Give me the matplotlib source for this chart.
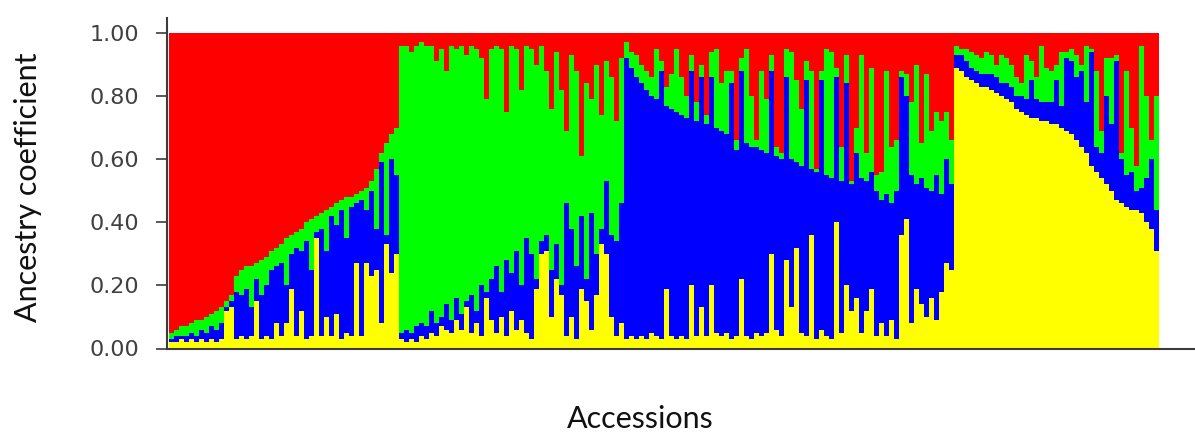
import matplotlib
matplotlib.use("Agg")
import matplotlib.pyplot as plt
import numpy as np

# Ancestry coefficients (percent) per accession, four clusters (K=4)
# groups: red-dominant (46), green-dominant (45), blue-dominant (66), yellow-dominant (41)
yellow = [
    2, 2, 3, 2, 3, 2, 3, 2, 3, 2, 3, 12, 13, 3, 4, 3, 4, 15, 3, 4, 3, 8, 4, 8, 19, 4, 12, 3, 4, 35,
    4, 10, 4, 11, 3, 5, 4, 27, 4, 27, 23, 25, 8, 33, 24, 30,
    3, 2, 3, 2, 4, 3, 5, 4, 7, 6, 5, 9, 6, 13, 5, 8, 4, 16, 9, 5, 10, 4, 12, 6, 9, 5, 3, 19, 30, 31,
    10, 22, 17, 4, 10, 3, 19, 15, 6, 17, 33, 30, 10, 4, 8,
    3, 4, 3, 4, 3, 5, 4, 3, 19, 4, 3, 4, 3, 20, 4, 13, 4, 20, 5, 4, 5, 3, 4, 22, 4, 3, 5, 4, 5, 30,
    6, 4, 28, 13, 32, 5, 4, 36, 3, 6, 4, 3, 40, 5, 20, 12, 16, 5, 12, 19, 4, 8, 4, 9, 3, 36, 41, 8,
    19, 14, 10, 16, 9, 18, 27, 25,
    89, 88, 86, 85, 84, 83, 83, 82, 81, 80, 79, 78, 76, 75, 74, 73, 73, 72, 72, 71, 71, 70, 69, 68,
    66, 64, 62, 58, 56, 54, 52, 50, 47, 46, 45, 44, 44, 43, 40, 38, 31,
]
blue = [
    1, 2, 1, 2, 2, 2, 3, 3, 4, 4, 5, 1, 2, 15, 13, 16, 9, 7, 14, 16, 22, 18, 23, 12, 11, 28, 19, 31,
    21, 2, 34, 21, 38, 28, 41, 30, 41, 19, 43, 17, 27, 13, 51, 3, 36, 25,
    2, 4, 2, 5, 4, 4, 7, 4, 3, 8, 4, 7, 5, 2, 12, 4, 16, 2, 13, 21, 8, 24, 12, 25, 11, 30, 27, 3, 4,
    5, 15, 11, 3, 42, 28, 23, 23, 7, 37, 13, 5, 23, 26, 30, 38,
    89, 85, 83, 80, 79, 75, 75, 85, 58, 72, 72, 70, 70, 68, 68, 73, 67, 66, 65, 65, 63, 81, 59, 66,
    61, 61, 59, 59, 57, 58, 55, 56, 58, 47, 27, 53, 81, 21, 53, 79, 51, 51, 46, 48, 64, 40, 46, 49,
    41, 37, 46, 39, 45, 37, 47, 50, 39, 47, 33, 40, 41, 34, 46, 31, 33, 27,
    4, 5, 5, 4, 4, 4, 4, 5, 5, 4, 5, 5, 4, 5, 5, 12, 6, 6, 6, 7, 14, 7, 23, 23, 20, 24, 16, 36, 8, 8,
    28, 21, 44, 14, 10, 12, 6, 8, 14, 22, 13,
]
green = [
    2, 2, 3, 3, 3, 5, 3, 5, 4, 6, 5, 2, 2, 5, 8, 7, 13, 5, 11, 9, 6, 6, 6, 15, 6, 5, 7, 6, 16, 5, 5,
    13, 3, 7, 3, 13, 3, 3, 3, 7, 3, 19, 3, 29, 8, 15,
    91, 90, 89, 89, 89, 89, 84, 83, 85, 74, 87, 79, 85, 78, 79, 83, 72, 61, 73, 70, 77, 47, 72, 64,
    62, 61, 65, 68, 62, 52, 51, 61, 62, 23, 55, 62, 19, 62, 36, 60, 36, 38, 50, 38, 46,
    5, 5, 7, 6, 6, 6, 16, 3, 6, 11, 20, 12, 7, 5, 6, 4, 3, 8, 25, 15, 20, 4, 3, 4, 30, 16, 2, 25, 17,
    5, 3, 2, 9, 34, 26, 18, 6, 31, 1, 3, 40, 40, 3, 11, 9, 1, 8, 39, 9, 33, 5, 9, 39, 18, 16, 2, 7,
    23, 38, 11, 36, 19, 20, 23, 15, 14,
    3, 2, 4, 5, 5, 5, 7, 6, 4, 9, 8, 7, 6, 4, 14, 6, 7, 18, 11, 10, 5, 17, 2, 4, 7, 2, 18, 1, 24, 7,
    12, 21, 2, 2, 33, 14, 8, 45, 26, 6, 36,
]
red = [
    95, 94, 93, 93, 92, 91, 91, 90, 89, 88, 87, 85, 83, 77, 75, 74, 74, 73, 72, 71, 69, 68, 67, 65,
    64, 63, 62, 60, 59, 58, 57, 56, 55, 54, 53, 52, 52, 51, 50, 49, 47, 43, 38, 35, 32, 30,
    4, 4, 6, 4, 3, 4, 4, 9, 5, 12, 4, 5, 4, 7, 4, 5, 8, 21, 5, 4, 5, 25, 4, 5, 18, 4, 5, 10, 4, 12,
    24, 6, 18, 31, 7, 12, 39, 16, 21, 10, 26, 9, 14, 28, 8,
    3, 6, 7, 10, 12, 14, 5, 9, 17, 13, 5, 14, 20, 7, 22, 10, 26, 6, 5, 16, 12, 12, 34, 8, 5, 20, 34,
    12, 21, 7, 36, 38, 5, 6, 15, 24, 9, 12, 43, 12, 5, 6, 11, 36, 7, 47, 30, 7, 38, 11, 45, 44, 12,
    36, 34, 12, 13, 22, 10, 35, 13, 31, 25, 28, 25, 34,
    4, 5, 5, 6, 7, 8, 6, 7, 10, 7, 8, 10, 14, 16, 7, 9, 14, 4, 11, 12, 10, 6, 6, 5, 7, 10, 4, 5, 12,
    31, 8, 8, 7, 38, 12, 30, 42, 4, 20, 34, 20,
]

yticks = [0.0, 0.2, 0.4, 0.6, 0.8, 1.0]
ytick_labels = ["0.00", "0.20", "0.40", "0.60", "0.80", "1.00"]

series = [
    (yellow, "#FFFF00"),
    (blue, "#0000FF"),
    (green, "#00FF00"),
    (red, "#FF0000"),
]

W, H = 1195, 434
fig = plt.figure(figsize=(W / 100, H / 100), dpi=100)
ax = fig.add_axes([167 / W, (H - 348.5) / H, (W - 167) / W, 330.5 / H])

n = len(yellow)
x = np.arange(n)
bottom = np.zeros(n)
for vals, col in series:
    v = np.array(vals, dtype=float) / 100.0
    ax.bar(x, v, width=1.0, bottom=bottom, align="edge", color=col,
           linewidth=0, antialiased=False)
    bottom += v

bar_px = (1159 - 169) / n
ax.set_xlim(-2 / bar_px, (W - 169) / bar_px)
ax.set_ylim(0, 330.5 / 315.5)

for s in ["top", "right"]:
    ax.spines[s].set_visible(False)
for s in ["left", "bottom"]:
    ax.spines[s].set_color("#3c3c3c")
    ax.spines[s].set_linewidth(1.5)

ax.set_xticks([])
ax.set_yticks(yticks)
ax.set_yticklabels(ytick_labels, fontsize=16, color="#404040", family="DejaVu Sans")
ax.tick_params(axis="y", length=8, width=1.2, color="#3c3c3c", pad=12)

fig.text(28 / W, 1 - 187 / H, "Ancestry coefficient", rotation=90, ha="center", va="center",
         fontsize=22, family="Lato", color="#111111")
fig.text(640 / W, 1 - 428 / H, "Accessions", ha="center", va="baseline",
         fontsize=22, family="Lato", color="#111111")

fig.savefig("out.png", dpi=100)
